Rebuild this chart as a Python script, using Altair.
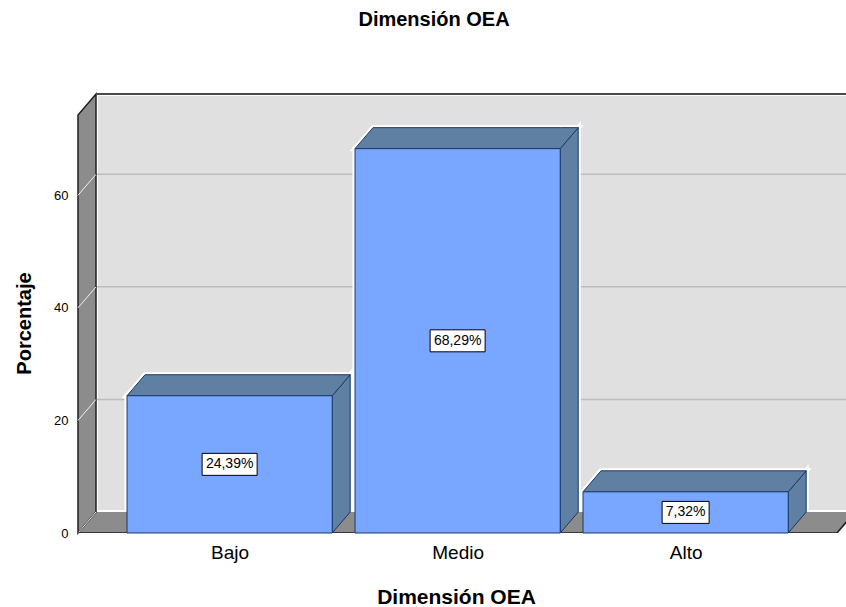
import json
import altair as alt
import pandas as pd

# Percentages per level of "Dimensión OEA"
categories = ["Bajo", "Medio", "Alto"]
percentages = [24.39, 68.29, 7.32]
y_ticks = [0, 20, 40, 60]
value_labels = [f"{v:.2f}".replace(".", ",") + "%" for v in percentages]

FONT = "Liberation Sans"

# plot area and pseudo-3D geometry
W, H = 768, 439
Y_TOP = 78.0
PX_PER_Y = H / Y_TOP
SLOT_PX = 228.0
X_MIN = -0.665
X_MAX = X_MIN + W / SLOT_PX
DX = 18 / SLOT_PX          # depth offset, x units
DY = 21 / PX_PER_Y         # depth offset, y units
HALF = 0.45                # half bar width
FLOOR_END = X_MAX - 9 / SLOT_PX

FRONT = "#79a6ff"
SHADE = "#5f80a3"
EDGE = "#1a3a66"
BACK = "#e0e0e0"
SIDE = "#8c8c8c"
GRID = "#bdbdbd"

xs = alt.Scale(domain=[X_MIN, X_MAX], nice=False, zero=False)
ys = alt.Scale(domain=[0, Y_TOP], nice=False, zero=False)

label_expr = f"{json.dumps(categories)}[round(datum.value)]"

x_axis = alt.Axis(
    values=[0, 1, 2], labelExpr=label_expr, domain=False, ticks=False, tickSize=0,
    grid=False, labelFont=FONT, labelFontSize=19, labelColor="#000000",
    labelBaseline="alphabetic", labelPadding=25,
    title="Dimensión OEA", titleFont=FONT, titleFontSize=21, titleFontWeight="bold",
    titleColor="#000000", titleX=378, titleY=70, titleAlign="center",
    titleBaseline="alphabetic",
)
y_axis = alt.Axis(
    values=y_ticks, domain=False, ticks=False, tickSize=0, grid=False,
    labelFont=FONT, labelFontSize=13, labelColor="#000000", labelPadding=10,
    title="Porcentaje", titleFont=FONT, titleFontSize=20, titleFontWeight="bold",
    titleColor="#000000", titleAngle=270, titleX=-48, titleY=229,
    titleAlign="center", titleBaseline="alphabetic",
)


def X(field="x"):
    return alt.X(f"{field}:Q", scale=xs, axis=x_axis)


def Y(field="y"):
    return alt.Y(f"{field}:Q", scale=ys, axis=y_axis)


# --- walls and floor -------------------------------------------------------
back_wall = pd.DataFrame([{"x": X_MIN + DX, "x2": X_MAX + 0.2, "y": DY, "y2": Y_TOP}])

wall_gridlines = pd.DataFrame(
    [{"x": X_MIN + DX, "x2": X_MAX, "y": v + DY, "y2": v + DY} for v in y_ticks if v > 0]
)

left_wall = pd.DataFrame([
    {"shape": "left", "x": X_MIN, "y": 0.0, "y2": Y_TOP - DY},
    {"shape": "left", "x": X_MIN + DX, "y": DY, "y2": Y_TOP},
])

floor = pd.DataFrame([
    {"shape": "floor", "x": X_MIN, "y": 0.0, "y2": 0.0},
    {"shape": "floor", "x": X_MIN + DX, "y": 0.0, "y2": DY},
    {"shape": "floor", "x": FLOOR_END, "y": 0.0, "y2": DY},
    {"shape": "floor", "x": FLOOR_END + DX, "y": DY, "y2": DY},
])

wall_diagonals = pd.DataFrame(
    [{"x": X_MIN, "x2": X_MIN + DX, "y": v, "y2": v + DY} for v in y_ticks]
)

floor_edges = pd.DataFrame([
    {"x": X_MIN, "x2": FLOOR_END, "y": 0.0, "y2": 0.0},
    {"x": FLOOR_END, "x2": FLOOR_END + DX, "y": 0.0, "y2": DY},
])

top_edge = pd.DataFrame([{"x": X_MIN + DX, "x2": X_MAX, "y": Y_TOP, "y2": Y_TOP}])

# --- bars ------------------------------------------------------------------
fronts, faces, boxes, texts = [], [], [], []
for i, (cat, v, lab) in enumerate(zip(categories, percentages, value_labels)):
    x0, x1 = i - HALF, i + HALF
    fronts.append({"cat": cat, "x": x0, "x2": x1, "y": 0.0, "y2": v})
    side = f"side_{cat}"
    faces += [
        {"shape": side, "x": x1, "y": 0.0, "y2": v},
        {"shape": side, "x": x1 + DX, "y": DY, "y2": v + DY},
    ]
    top = f"top_{cat}"
    faces += [
        {"shape": top, "x": x0, "y": v, "y2": v},
        {"shape": top, "x": x0 + DX, "y": v, "y2": v + DY},
        {"shape": top, "x": x1, "y": v, "y2": v + DY},
        {"shape": top, "x": x1 + DX, "y": v + DY, "y2": v + DY},
    ]
    hw = (8 * len(lab) + 7) / 2 / SLOT_PX
    hh = 11 / PX_PER_Y
    boxes.append({"x": i - hw, "x2": i + hw, "y": v / 2 - hh, "y2": v / 2 + hh})
    texts.append({"x": float(i), "y": v / 2, "label": lab})

fronts = pd.DataFrame(fronts)
faces = pd.DataFrame(faces)
boxes = pd.DataFrame(boxes)
texts = pd.DataFrame(texts)

rule_enc = dict(x=X("x"), x2=alt.X2("x2"), y=Y("y"), y2=alt.Y2("y2"))
area_enc = dict(x=X("x"), y=Y("y"), y2=alt.Y2("y2"), detail="shape:N")

layers = [
    alt.Chart(back_wall).mark_rect(fill=BACK, stroke="white", strokeWidth=4, clip=True).encode(**rule_enc),
    alt.Chart(wall_gridlines).mark_rule(color=GRID, strokeWidth=1.5).encode(**rule_enc),
    # white halo around each bar
    alt.Chart(faces).mark_area(fill="white", stroke="white", strokeWidth=5, clip=True).encode(**area_enc),
    alt.Chart(fronts).mark_rect(fill="white", stroke="white", strokeWidth=5, clip=True).encode(**rule_enc),
    alt.Chart(floor).mark_area(fill=SIDE, clip=True).encode(**area_enc),
    alt.Chart(left_wall).mark_area(fill=SIDE, stroke="#1e1e1e", strokeWidth=1.5).encode(**area_enc),
    alt.Chart(wall_diagonals).mark_rule(color="#f0f0f0", strokeWidth=1).encode(**rule_enc),
    alt.Chart(floor_edges).mark_rule(color="#1e1e1e", strokeWidth=1.5, clip=True).encode(**rule_enc),
    alt.Chart(top_edge).mark_rule(color="#4a4a4a", strokeWidth=2).encode(**rule_enc),
    alt.Chart(faces).mark_area(fill=SHADE, stroke=EDGE, strokeWidth=1).encode(**area_enc),
    alt.Chart(fronts).mark_rect(fill=FRONT, stroke=EDGE, strokeWidth=1).encode(**rule_enc),
    alt.Chart(boxes).mark_rect(fill="white", stroke="#000000", strokeWidth=1).encode(**rule_enc),
    alt.Chart(texts).mark_text(font=FONT, fontSize=14, color="#000000", baseline="middle").encode(
        x=X("x"), y=Y("y"), text="label:N"
    ),
]

chart = (
    alt.layer(*layers)
    .properties(
        width=W,
        height=H,
        autosize=alt.AutoSizeParams(type="none"),
        padding={"left": 78, "top": 94, "right": 0, "bottom": 74},
        background="white",
        title=alt.TitleParams(
            text="Dimensión OEA", font=FONT, fontSize=20, fontWeight="bold",
            color="#000000", anchor="middle", frame="group", dx=-28, offset=45,
            baseline="alphabetic",
        ),
    )
    .configure_view(stroke=None)
)

chart.save("out.html", embed_options={"renderer": "svg", "actions": False})
